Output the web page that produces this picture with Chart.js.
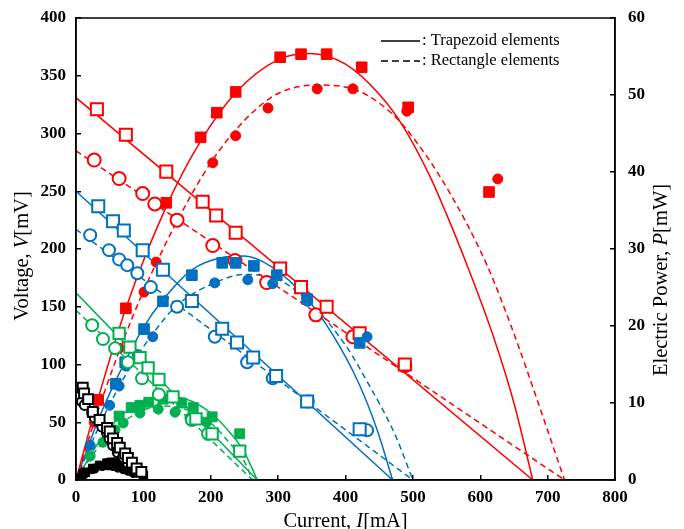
<!DOCTYPE html>
<html lang="en">
<head>
    <meta charset="UTF-8">
    <title>Voltage and electric power vs current</title>
    <script src="https://cdn.jsdelivr.net/npm/chart.js"></script>
    <style>
        body {
            margin: 0;
            background: #ffffff;
        }
        canvas {
            display: block;
        }
    </style>
</head>
<body>
    <canvas id="iv-chart" width="684" height="529"></canvas>

    <script>
        // Data: [current mA, voltage mV] and [current mA, power mW]
        const redTrapV = [[31,321],[74,299],[134,267],[188,241],[208,229],[237,214],[303,183],[334,167],[372,150],[421,127],[488,100]];
        const redTrapP = [[33,10.4],[74,22.3],[134,36.0],[185,44.5],[209,47.7],[237,50.4],[303,54.9],[334,55.3],[372,55.3],[424,53.6],[493,48.4],[613,37.4]];
        const redRectV = [[27,277],[64,261],[99,248],[117,239],[150,225],[203,203],[236,190],[283,171],[356,143],[411,124],[488,99]];
        const redRectP = [[27,7.5],[64,17.1],[101,24.4],[119,28.3],[150,33.8],[203,41.2],[237,44.7],[285,48.3],[358,50.8],[411,50.8],[491,47.9],[626,39.1]];

        const blueTrapV = [[33,237],[55,224],[71,216],[99,199],[129,182],[172,155],[217,131],[239,119],[263,106],[297,90],[343,68],[421,44]];
        const blueTrapP = [[33,7.8],[59,12.5],[73,15.3],[101,19.6],[129,23.2],[172,26.6],[217,28.2],[237,28.2],[264,27.8],[298,26.6],[343,23.5],[421,17.8]];
        const blueRectV = [[21,212],[49,199],[64,191],[76,186],[91,179],[111,167],[150,150],[206,124],[254,102],[292,88],[344,68],[432,43]];
        const blueRectP = [[21,4.5],[50,9.7],[64,12.2],[74,14.8],[91,16.3],[114,18.6],[150,22.4],[206,25.6],[255,26],[292,25.5],[344,23.2],[432,18.6]];

        const greenTrapV = [[64,127],[80,115],[95,106],[107,97],[123,87],[144,72],[178,53],[202,40],[243,25]];
        const greenTrapP = [[64,8.3],[82,9.4],[95,9.7],[108,10.1],[129,10.5],[144,10.8],[157,10.0],[174,9.4],[202,8.2],[243,6.0]];
        const greenRectV = [[24,134],[40,122],[58,114],[77,102],[98,88],[123,74],[172,52],[196,40]];
        const greenRectP = [[21,3.1],[40,4.9],[58,6.5],[70,7.4],[95,8.7],[122,9.2],[147,8.8],[169,8.1],[194,7.5]];

        const blackTrapV = [[10,80],[12,75],[18,70],[25,59],[35,52],[46,45],[50,42],[55,36],[61,32],[65,28],[73,23],[77,19],[83,15],[90,10],[97,7]];
        const blackTrapP = [[0,0],[10,0.8],[14,1.0],[25,1.5],[35,1.9],[46,2.2],[52,2.3],[58,2.3],[64,2.2],[70,2.1],[77,1.9],[84,1.6],[90,1.3],[96,1.0],[100,0.6]];
        const blackRectV = [[9,68],[13,65],[24,58],[28,54],[39,46],[46,41],[50,36],[55,30],[62,24],[70,20],[77,15]];
        const blackRectP = [[5,0.3],[9,0.6],[13,0.85],[24,1.4],[28,1.5],[39,1.8],[46,1.9],[50,1.9],[55,1.8],[62,1.6],[70,1.4],[77,1.2],[85,0.9]];

        // Fitted lines / curves
        const redTrapVLine = [[0,331],[678,0]];
        const redRectVLine = [[0,285],[725,0]];
        const redTrapPCurve = [[0,0],[33,10.6],[74,22.3],[134,35.5],[185,44],[237,50.3],[300,54.6],[347,55.4],[400,54],[451,50],[485,46],[525,39.5],[550,34.5],[580,28],[620,18.5],[650,10],[678,0]];
        const redRectPCurve = [[0,0],[27,7.5],[64,16.7],[100,24.5],[150,33.6],[200,41.2],[250,46.7],[300,50.2],[361,51.3],[420,50.5],[470,47.5],[500,44.5],[550,38],[610,27.9],[650,19],[690,9],[725,0]];

        const blueTrapVLine = [[0,250],[470,0]];
        const blueRectVLine = [[0,217],[500,0]];
        const blueTrapPCurve = [[0,0],[33,7.8],[60,13.1],[100,19.8],[130,23.5],[172,27.3],[217,28.9],[250,29.1],[290,27.7],[343,23.5],[380,19],[420,12.5],[447,6.5],[470,0]];
        const blueRectPCurve = [[0,0],[21,4.4],[50,9.8],[76,14],[114,19],[150,22.7],[206,25.6],[250,26.7],[292,26.3],[344,23.3],[400,17.5],[432,12.8],[473,6],[500,0]];

        const greenTrapVLine = [[0,162],[269,0]];
        const greenRectVLine = [[0,147],[262,0]];
        const greenTrapPCurve = [[0,0],[30,4.4],[64,8.1],[100,10.2],[135,10.9],[170,10.3],[200,8.7],[230,6.0],[250,3.6],[269,0]];
        const greenRectPCurve = [[0,0],[24,3.2],[58,6.6],[95,8.9],[130,9.6],[165,9.1],[200,7.4],[230,4.6],[250,2.4],[262,0]];

        const xTicks = [0, 100, 200, 300, 400, 500, 600, 700, 800];

        const RED = '#ff0000';
        const BLUE = '#0070c0';
        const GREEN = '#00b050';
        const BLACK = '#000000';
        const SERIF = '"Liberation Serif", "Times New Roman", serif';

        function pts(arr) {
            return arr.map(p => ({ x: p[0], y: p[1] }));
        }

        function markers(arr, axis, color, style, filled, r) {
            return {
                data: pts(arr),
                yAxisID: axis,
                showLine: false,
                pointStyle: style,
                pointRadius: r,
                pointBorderColor: color,
                pointBackgroundColor: filled ? color : '#ffffff',
                pointBorderWidth: filled ? 1 : 2,
                borderColor: color,
                backgroundColor: color,
            };
        }

        function fit(arr, axis, color, dashed) {
            return {
                data: pts(arr),
                yAxisID: axis,
                showLine: true,
                pointRadius: 0,
                borderColor: color,
                borderWidth: 1.5,
                borderDash: dashed ? [6, 4] : [],
                cubicInterpolationMode: 'monotone',
            };
        }

        const datasets = [
            // markers first so they sit above the lines
            markers(blackTrapV, 'y', BLACK, 'rect', false, 7),
            markers(blackRectV, 'y', BLACK, 'circle', false, 5),
            markers(blackTrapP, 'y2', BLACK, 'rect', true, 6),
            markers(blackRectP, 'y2', BLACK, 'circle', true, 4.5),

            markers(greenTrapV, 'y', GREEN, 'rect', false, 8),
            markers(greenRectV, 'y', GREEN, 'circle', false, 6),
            markers(greenTrapP, 'y2', GREEN, 'rect', true, 7),
            markers(greenRectP, 'y2', GREEN, 'circle', true, 5),

            markers(blueTrapV, 'y', BLUE, 'rect', false, 8.5),
            markers(blueRectV, 'y', BLUE, 'circle', false, 6),
            markers(blueTrapP, 'y2', BLUE, 'rect', true, 7.5),
            markers(blueRectP, 'y2', BLUE, 'circle', true, 5),

            markers(redTrapV, 'y', RED, 'rect', false, 8.5),
            markers(redRectV, 'y', RED, 'circle', false, 6.5),
            markers(redTrapP, 'y2', RED, 'rect', true, 7.5),
            markers(redRectP, 'y2', RED, 'circle', true, 5),

            fit(redTrapVLine, 'y', RED, false),
            fit(redRectVLine, 'y', RED, true),
            fit(redTrapPCurve, 'y2', RED, false),
            fit(redRectPCurve, 'y2', RED, true),
            fit(blueTrapVLine, 'y', BLUE, false),
            fit(blueRectVLine, 'y', BLUE, true),
            fit(blueTrapPCurve, 'y2', BLUE, false),
            fit(blueRectPCurve, 'y2', BLUE, true),
            fit(greenTrapVLine, 'y', GREEN, false),
            fit(greenRectVLine, 'y', GREEN, true),
            fit(greenTrapPCurve, 'y2', GREEN, false),
            fit(greenRectPCurve, 'y2', GREEN, true),
        ];

        // draws one line of text where a single letter is italic
        function mixedText(ctx, parts, x, y) {
            let total = 0;
            parts.forEach(p => {
                ctx.font = (p.italic ? 'italic ' : '') + '20.5px ' + SERIF;
                p.w = ctx.measureText(p.t).width;
                total += p.w;
            });
            let cx = x - total / 2;
            parts.forEach(p => {
                ctx.font = (p.italic ? 'italic ' : '') + '20.5px ' + SERIF;
                ctx.fillText(p.t, cx, y);
                cx += p.w;
            });
        }

        // frame, axis titles and the line-style key
        const decorPlugin = {
            id: 'decor',
            afterDraw(chart) {
                const { ctx, chartArea: { top, right, bottom, left } } = chart;
                ctx.save();
                ctx.strokeStyle = '#000';
                ctx.lineWidth = 1.5;
                ctx.strokeRect(left, top, right - left, bottom - top);

                ctx.fillStyle = '#000';
                ctx.textBaseline = 'middle';
                ctx.textAlign = 'left';

                // bottom title
                mixedText(ctx, [{ t: 'Current, ' }, { t: 'I', italic: true }, { t: '[mA]' }], (left + right) / 2, 522);

                // left title
                ctx.save();
                ctx.translate(23, 256);
                ctx.rotate(-Math.PI / 2);
                mixedText(ctx, [{ t: 'Voltage, ' }, { t: 'V', italic: true }, { t: '[mV]' }], 0, 0);
                ctx.restore();

                // right title
                ctx.save();
                ctx.translate(662, 280);
                ctx.rotate(-Math.PI / 2);
                mixedText(ctx, [{ t: 'Electric Power, ' }, { t: 'P', italic: true }, { t: '[mW]' }], 0, 0);
                ctx.restore();

                // key
                ctx.font = '16.5px ' + SERIF;
                ctx.lineWidth = 1.5;
                ctx.beginPath();
                ctx.moveTo(381, 41);
                ctx.lineTo(420, 41);
                ctx.stroke();
                ctx.setLineDash([7, 4]);
                ctx.beginPath();
                ctx.moveTo(381, 61);
                ctx.lineTo(420, 61);
                ctx.stroke();
                ctx.setLineDash([]);
                ctx.fillText(': Trapezoid elements', 422, 41);
                ctx.fillText(': Rectangle elements', 422, 61);
                ctx.restore();
            }
        };

        const tickFont = { family: SERIF, size: 17, weight: 'bold' };

        // keep the plot box fixed, no extra room for overhanging labels
        function fixVertical(width) {
            return s => {
                s.width = width;
                s.paddingTop = 0;
                s.paddingBottom = 0;
            };
        }

        new Chart(document.getElementById('iv-chart'), {
            type: 'scatter',
            data: { datasets: datasets },
            options: {
                responsive: false,
                devicePixelRatio: 1,
                animation: false,
                layout: { padding: { top: 18, right: 0, left: 0, bottom: 0 } },
                plugins: {
                    legend: { display: false },
                    tooltip: { enabled: false },
                },
                scales: {
                    x: {
                        type: 'linear',
                        min: 0,
                        max: 800,
                        afterBuildTicks: s => { s.ticks = xTicks.map(v => ({ value: v })); },
                        afterFit: s => {
                            s.height = 49;
                            s.paddingLeft = 0;
                            s.paddingRight = 0;
                        },
                        ticks: { font: tickFont, color: '#000', padding: 12, maxRotation: 0 },
                        grid: { drawOnChartArea: false, tickLength: -5, color: '#000', lineWidth: 1.5 },
                        border: { color: '#000', width: 1.5 },
                    },
                    y: {
                        position: 'left',
                        min: 0,
                        max: 400,
                        afterFit: fixVertical(76),
                        ticks: { stepSize: 50, font: tickFont, color: '#000', padding: 15 },
                        grid: { drawOnChartArea: false, tickLength: -5, color: '#000', lineWidth: 1.5 },
                        border: { color: '#000', width: 1.5 },
                    },
                    y2: {
                        position: 'right',
                        min: 0,
                        max: 60,
                        afterFit: fixVertical(69),
                        ticks: { stepSize: 10, font: tickFont, color: '#000', padding: 18 },
                        grid: { drawOnChartArea: false, tickLength: -5, color: '#000', lineWidth: 1.5 },
                        border: { color: '#000', width: 1.5 },
                    },
                },
            },
            plugins: [decorPlugin],
        });
    </script>
</body>
</html>
